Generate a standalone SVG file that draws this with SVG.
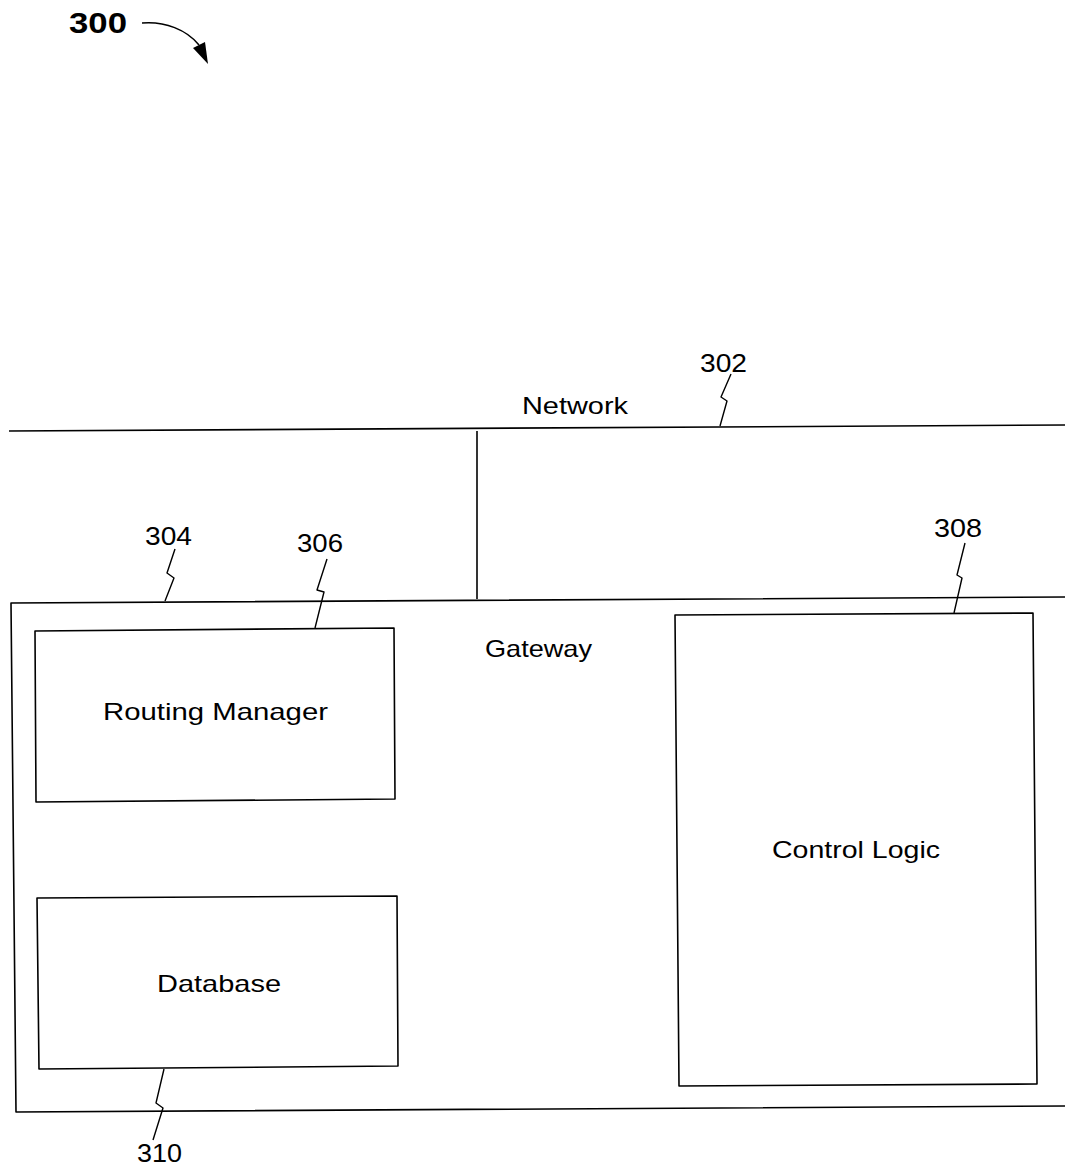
<svg xmlns="http://www.w3.org/2000/svg" width="1065" height="1170" viewBox="0 0 1065 1170">
<style>
.ln{fill:none;stroke:#000;stroke-width:1.6;stroke-linejoin:round}
.lead{fill:none;stroke:#000;stroke-width:1.4;stroke-linejoin:round}
.t{font-family:"Liberation Sans",Arial,Helvetica,sans-serif;font-size:24px;fill:#000}
.n{font-family:"Liberation Sans",Arial,Helvetica,sans-serif;font-size:26px;fill:#000}
</style>
<rect width="1065" height="1170" fill="#fff"/>
<g id="fig-label">
<text x="69" y="33" font-family="Liberation Sans,Arial,sans-serif" font-size="29" font-weight="bold" textLength="58" lengthAdjust="spacingAndGlyphs">300</text>
<path class="ln" d="M142,23 C165,21 187,30 199,45"/>
<polygon points="208,64 193,48 205,42" fill="#000"/>
</g>
<g id="connectors">
<path class="ln" d="M9,431 L1065,425"/>
<path class="ln" d="M477,431 L477,599"/>
</g>
<g id="network">
<text class="t" x="522" y="414" textLength="106" lengthAdjust="spacingAndGlyphs">Network</text>
<text class="n" x="700" y="372" textLength="47" lengthAdjust="spacingAndGlyphs">302</text>
<path class="lead" d="M720,426 L727,401 L721,397 L731,374"/>
</g>
<g id="gateway">
<path class="ln" d="M1065,597 L11,603 L16,1112 L1065,1106"/>
<text class="t" x="485" y="657" textLength="107" lengthAdjust="spacingAndGlyphs">Gateway</text>
<text class="n" x="145" y="545" textLength="47" lengthAdjust="spacingAndGlyphs">304</text>
<path class="lead" d="M165,601 L174,578 L167,573 L175,549"/>
</g>
<g id="routing-manager">
<path class="ln" d="M35,631 L394,628 L395,799 L36,802 Z"/>
<text class="t" x="103" y="720" textLength="225" lengthAdjust="spacingAndGlyphs">Routing Manager</text>
<text class="n" x="297" y="552" textLength="46" lengthAdjust="spacingAndGlyphs">306</text>
<path class="lead" d="M315,628 L324,592 L317,590 L327,559"/>
</g>
<g id="control-logic">
<path class="ln" d="M675,615 L1033,613 L1037,1084 L679,1086 Z"/>
<text class="t" x="772" y="858" textLength="168" lengthAdjust="spacingAndGlyphs">Control Logic</text>
<text class="n" x="934" y="537" textLength="48" lengthAdjust="spacingAndGlyphs">308</text>
<path class="lead" d="M954,613 L962,578 L957,575 L965,543"/>
</g>
<g id="database">
<path class="ln" d="M37,898 L397,896 L398,1066 L39,1069 Z"/>
<text class="t" x="157" y="992" textLength="124" lengthAdjust="spacingAndGlyphs">Database</text>
<text class="n" x="137" y="1162" textLength="45" lengthAdjust="spacingAndGlyphs">310</text>
<path class="lead" d="M164,1069 L156,1103 L163,1108 L153,1140"/>
</g>
</svg>
